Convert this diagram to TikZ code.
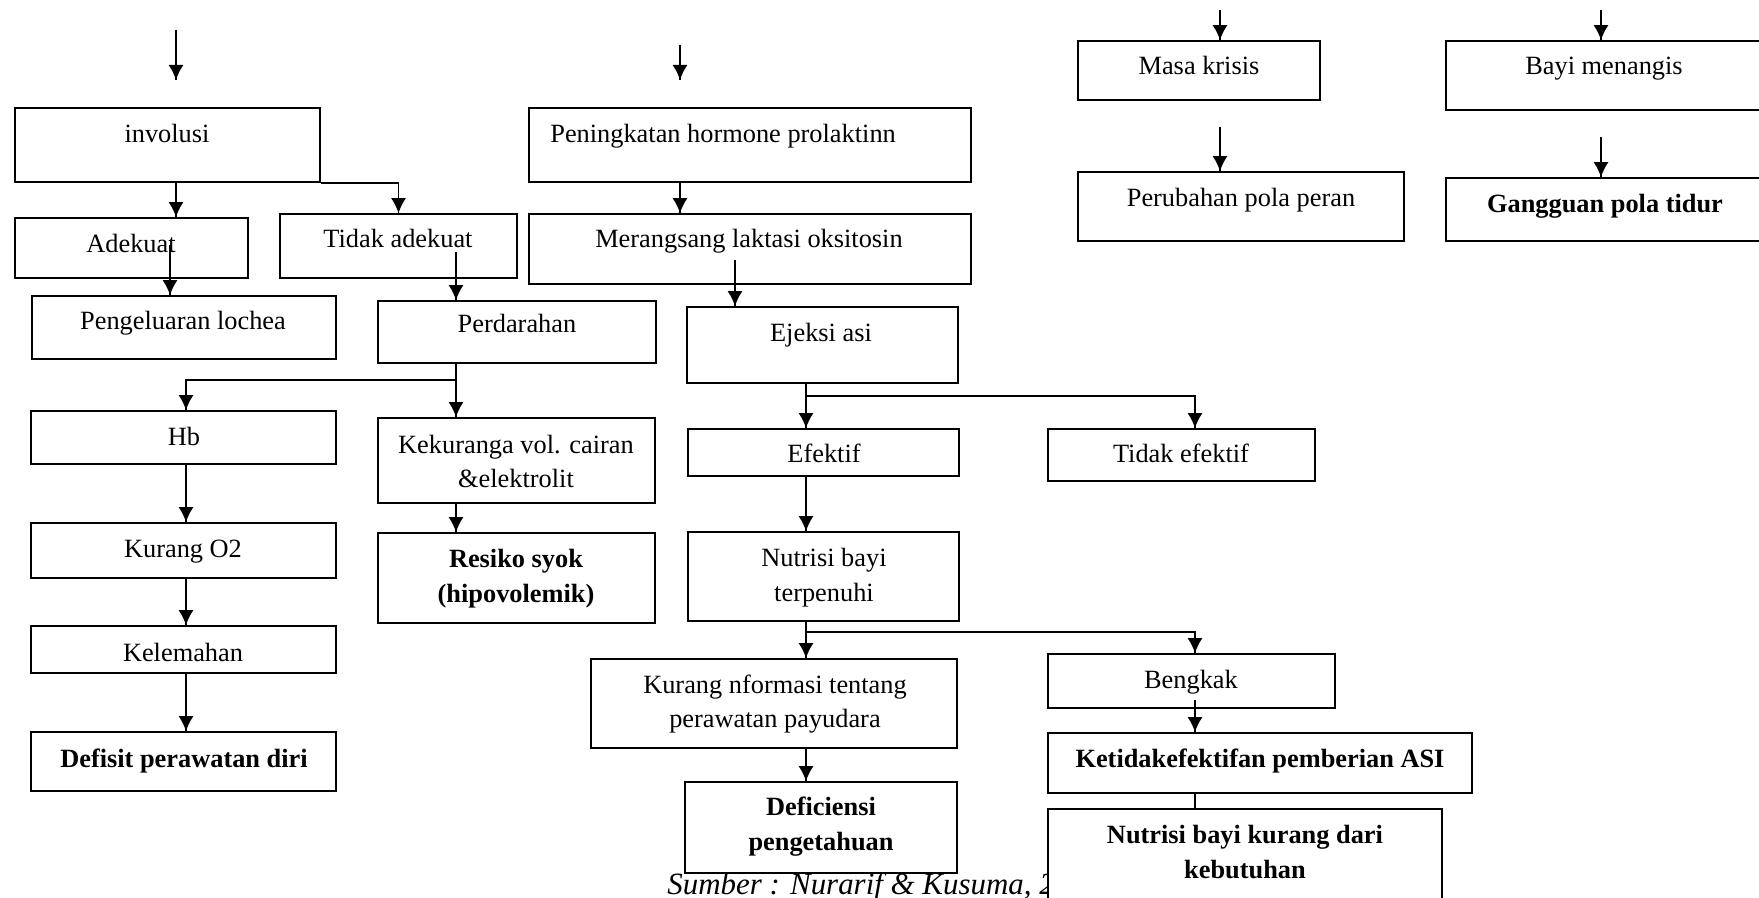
\documentclass[tikz,border=0pt]{standalone}
\usepackage{fontspec}
\setmainfont{Liberation Serif}
\usetikzlibrary{decorations.markings,arrows.meta,fit}

\begin{document}
\begin{tikzpicture}[x=0.02cm, y=-0.02cm,
  box/.style={draw, fill=white, line width=0.95pt, inner sep=0pt},
  txt/.style={inner sep=0pt, font=\fontsize{15}{19.8}\selectfont, align=center},
  txtb/.style={txt, font=\fontsize{15}{19.8}\selectfont\bfseries},
  flow/.style={line width=0.95pt, decoration={markings,mark=at position 1 with {\arrow{Latex[length=0.3cm,width=0.3cm]}}}, postaction={decorate}}]
\useasboundingbox (0,0) rectangle (1759,898);
\clip (0,0) rectangle (1759,898);

\node (sumber) [anchor=base west, inner sep=0pt, font=\fontsize{17.6}{20}\selectfont\itshape] at (667,894) {Sumber : Nurarif \& Kusuma, 2};

% boxes
\node (1) [box, fit={(15,108) (320,182)}] {};
\node (2) [box, fit={(15,218) (248,278)}] {};
\node (3) [box, fit={(280,214) (517,278)}] {};
\node (4) [box, fit={(32,296) (336,359)}] {};
\node (5) [box, fit={(378,301) (656,363)}] {};
\node (6) [box, fit={(31,411) (336,464)}] {};
\node (7) [box, fit={(31,523) (336,578)}] {};
\node (8) [box, fit={(31,626) (336,673)}] {};
\node (9) [box, fit={(31,732) (336,791)}] {};
\node (10) [box, fit={(378,418) (655,503)}] {};
\node (11) [box, fit={(378,533) (655,623)}] {};
\node (12) [box, fit={(529,108) (971,182)}] {};
\node (13) [box, fit={(529,214) (971,284)}] {};
\node (14) [box, fit={(687,307) (958,383)}] {};
\node (15) [box, fit={(688,429) (959,476)}] {};
\node (16) [box, fit={(1048,429) (1315,481)}] {};
\node (17) [box, fit={(688,532) (959,621)}] {};
\node (18) [box, fit={(591,659) (957,748)}] {};
\node (19) [box, fit={(685,782) (957,873)}] {};
\node (20) [box, fit={(1048,654) (1335,708)}] {};
\node (21) [box, fit={(1048,733) (1472,793)}] {};
\node (22) [box, fit={(1048,809) (1442,915)}] {};
\node (23) [box, fit={(1078,41) (1320,100)}] {};
\node (24) [box, fit={(1078,172) (1404,241)}] {};
\node (25) [box, fit={(1446,41) (1775,110)}] {};
\node (26) [box, fit={(1446,178) (1775,241)}] {};

% texts
\node (t1) [txt, anchor=base] at (167,143) {involusi};
\node (t2) [txt, anchor=base] at (131,253) {Adekuat};
\node (t3) [txt, anchor=base] at (398,248) {Tidak adekuat};
\node (t4) [txt, anchor=base] at (183,330) {Pengeluaran lochea};
\node (t5) [txt, anchor=base] at (517,333) {Perdarahan};
\node (t6) [txt, anchor=base] at (184,446) {Hb};
\node (t7) [txt, anchor=base] at (183,558) {Kurang O2};
\node (t8) [txt, anchor=base] at (183,661) {Kelemahan};
\node (t9) [txtb, anchor=base] at (184,767) {Defisit perawatan diri};
\node (t10) [txt] at (516,461.5) {Kekuranga vol. cairan\\\&elektrolit};
\node (t11) [txtb] at (516,579) {Resiko syok\\(hipovolemik)};
\node (t12) [txt, anchor=base west] at (550,143) {Peningkatan hormone prolaktinn};
\node (t13) [txt, anchor=base] at (749,248) {Merangsang laktasi oksitosin};
\node (t14) [txt, anchor=base] at (821,342) {Ejeksi asi};
\node (t15) [txt, anchor=base] at (824,463) {Efektif};
\node (t16) [txt, anchor=base] at (1181,463) {Tidak efektif};
\node (t17) [txt] at (824,578) {Nutrisi bayi\\terpenuhi};
\node (t18) [txt] at (775,704) {Kurang nformasi tentang\\perawatan payudara};
\node (t19) [txtb] at (821,827) {Deficiensi\\pengetahuan};
\node (t20) [txt, anchor=base] at (1191,688) {Bengkak};
\node (t21) [txtb, anchor=base] at (1260,767) {Ketidakefektifan pemberian ASI};
\node (t22) [txtb] at (1245,852) {Nutrisi bayi kurang dari\\kebutuhan};
\node (t23) [txt, anchor=base] at (1199,75) {Masa krisis};
\node (t24) [txt, anchor=base] at (1241,207) {Perubahan pola peran};
\node (t25) [txt, anchor=base] at (1604,75) {Bayi menangis};
\node (t26) [txtb, anchor=base] at (1605,213) {Gangguan pola tidur};

% connector ends
\coordinate (a1) at (176,30);
\coordinate (a2) at (176,80);
\coordinate (b1) at (680,45);
\coordinate (b2) at (680,80);
\coordinate (c1) at (1220,10);
\coordinate (d1) at (1601,10);
\coordinate (e1) at (170,245);
\coordinate (e2) at (456,252);
\coordinate (e3) at (456,380);
\coordinate (e4) at (735,260);
\coordinate (e5) at (1195,700);
\coordinate (f1) at (806,396);
\coordinate (f2) at (1195,396);
\coordinate (g1) at (806,632);
\coordinate (g2) at (1195,632);
\coordinate (h1) at (1220,127);
\coordinate (h2) at (1601,137);
\coordinate (k1) at (186,380);

% connectors
\draw[flow] (a1) -- (a2);
\draw[flow] (b1) -- (b2);
\draw[flow] (c1) -- (c1 |- 23.north);
\draw[flow] (d1) -- (d1 |- 25.north);
\draw[flow] (a2 |- 1.south) -- (a2 |- 2.north);
\draw[flow] (1.south east) -| (3.north);
\draw[flow] (e1) -- (e1 |- 4.north);
\draw[flow] (e2) -- (e2 |- 5.north);
\draw[flow] (e2 |- 5.south) -- (e2 |- 10.north);
\draw[flow] (e3) -- (k1) -- (k1 |- 6.north);
\draw[flow] (k1 |- 6.south) -- (k1 |- 7.north);
\draw[flow] (k1 |- 7.south) -- (k1 |- 8.north);
\draw[flow] (k1 |- 8.south) -- (k1 |- 9.north);
\draw[flow] (e2 |- 10.south) -- (e2 |- 11.north);
\draw[flow] (b2 |- 12.south) -- (b2 |- 13.north);
\draw[flow] (e4) -- (e4 |- 14.north);
\draw[flow] (f1 |- 14.south) -- (f1 |- 15.north);
\draw[flow] (f1) -- (f2) -- (f2 |- 16.north);
\draw[flow] (f1 |- 15.south) -- (f1 |- 17.north);
\draw[flow] (g1 |- 17.south) -- (g1 |- 18.north);
\draw[flow] (g1) -- (g2) -- (g2 |- 20.north);
\draw[flow] (g1 |- 18.south) -- (g1 |- 19.north);
\draw[flow] (e5) -- (e5 |- 21.north);
\draw[line width=0.95pt] (e5 |- 21.south) -- (e5 |- 22.north);
\draw[flow] (h1) -- (h1 |- 24.north);
\draw[flow] (h2) -- (h2 |- 26.north);
\end{tikzpicture}
\end{document}
